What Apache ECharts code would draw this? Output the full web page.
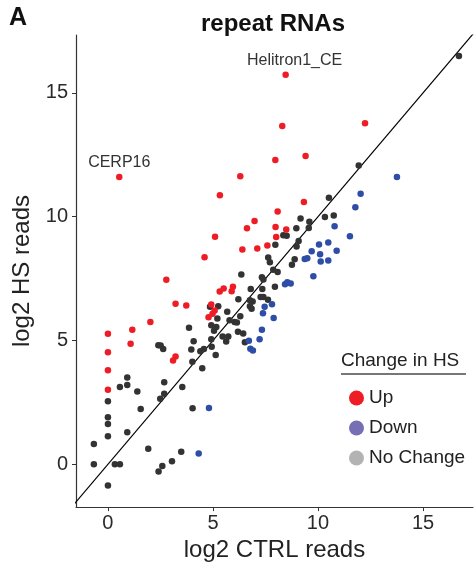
<!DOCTYPE html>
<html>
<head>
<meta charset="utf-8">
<script src="https://cdn.jsdelivr.net/npm/echarts@6/dist/echarts.min.js"></script>
<style>
  html, body { margin: 0; padding: 0; background: #fff; }
  #chart { width: 475px; height: 567px; }
</style>
</head>
<body>
<div id="chart"></div>
<script>
// [log2 CTRL reads, log2 HS reads]
const upPoints = [
  [0.54, 11.60], [6.30, 11.63], [5.33, 10.87], [8.46, 15.73], [8.30, 13.66], [12.24, 13.78],
  [7.97, 12.29], [9.41, 12.45], [9.33, 10.59], [8.08, 10.21], [6.98, 9.83], [6.62, 9.53],
  [5.10, 9.19], [6.40, 8.68], [7.11, 8.72], [7.59, 8.84], [4.60, 8.36], [2.78, 7.45],
  [5.32, 6.98], [5.51, 7.10], [5.89, 6.99], [5.95, 7.17], [3.22, 6.48], [3.73, 6.41],
  [4.92, 6.45], [5.08, 6.21], [4.98, 6.08], [4.79, 5.94], [2.02, 5.75], [1.16, 5.43],
  [0, 5.27], [1.08, 4.87], [0, 4.53], [3.22, 4.35], [3.10, 4.19], [0, 3.80], [0, 3.01],
  [7.98, 9.58], [8.49, 9.48], [8.01, 9.18]
]
// labelled repeats (index into upPoints)
const upLabels = { 0: 'CERP16', 3: 'Helitron1_CE' }

const downPoints = [
  [13.76, 11.60], [12.03, 10.93], [11.78, 10.38], [10.79, 9.61], [11.52, 9.21], [10.05, 8.88],
  [10.49, 8.96], [9.70, 8.60], [10.89, 8.63], [10.10, 8.48], [10.13, 8.19], [10.49, 8.23],
  [9.37, 8.29], [9.49, 8.32], [9.78, 7.59], [8.43, 7.27], [8.54, 7.35], [8.70, 7.30],
  [7.81, 6.46], [7.89, 5.91], [7.46, 6.36], [7.38, 6.10], [7.33, 5.43], [7.22, 5.05],
  [6.71, 4.99], [6.78, 4.67], [6.90, 4.60], [4.81, 2.27], [4.32, 0.44]
]

const noChangePoints = [
  [16.71, 16.49], [11.94, 12.07], [10.52, 10.77], [9.17, 9.93], [9.59, 9.80], [10.33, 9.99],
  [10.75, 10.05], [8.97, 9.53], [9.56, 9.54], [8.35, 9.25], [8.51, 9.23], [7.97, 8.87],
  [9.08, 9.02], [8.98, 8.80], [8.89, 8.28], [8.76, 8.06], [7.63, 8.35], [7.71, 8.16],
  [7.87, 7.86], [8.08, 7.77], [7.95, 7.17], [6.35, 7.67], [7.33, 7.55], [7.40, 7.46],
  [6.80, 7.08], [7.35, 7.08], [6.21, 6.67], [6.76, 6.63], [7.27, 6.76], [7.40, 6.76],
  [7.62, 6.65], [6.89, 6.57], [6.76, 6.38], [6.84, 6.28], [4.86, 6.36], [5.25, 6.38],
  [5.68, 6.16], [6.30, 5.98], [5.21, 5.89], [5.79, 5.82], [6.03, 5.75], [6.14, 5.73],
  [4.92, 5.62], [5.16, 5.54], [5.05, 5.39], [6.19, 5.35], [6.44, 5.28], [3.86, 5.51],
  [5.46, 5.16], [5.73, 5.16], [4.92, 5.05], [4.08, 4.97], [5.63, 4.96], [2.40, 4.81],
  [2.51, 4.80], [2.63, 4.66], [3.97, 4.64], [4.40, 4.57], [4.57, 4.66], [6.52, 4.93],
  [5.13, 4.41], [4.94, 4.75], [0, 2.55], [0, 1.90], [0, 1.63], [0, 1.13], [0, -0.86],
  [-0.67, 0.82], [-0.67, 0], [0.33, 0], [0.57, 0], [0.57, 3.12], [0.92, 3.51], [0.92, 3.20],
  [1.40, 2.94], [1.56, 2.23], [0.92, 1.29], [1.92, 0.63], [2.68, 3.31], [2.68, 2.85],
  [2.49, 2.65], [3.54, 3.12], [4.03, 2.26], [3.49, 0.51], [3.05, 0.12], [2.59, -0.07],
  [2.41, -0.29], [4.02, 4.14], [4.49, 3.88]
]

// y = x reference line
const diagonal = [[-5, -5], [20, 20]]
const tickValues = [0, 5, 10, 15]
const legendNames = ['Up', 'Down', 'No Change']
const legendColors = ['#EE1C25', '#7570B3', '#B3B3B3']

const chart = echarts.init(document.getElementById('chart'), null, { renderer: 'canvas' })

const axisCommon = {
  type: 'value',
  splitLine: { show: false },
  axisLine: { show: true, onZero: false, lineStyle: { color: '#333', width: 1.2 } },
  axisTick: { show: true, length: 4, lineStyle: { color: '#333' }, customValues: tickValues },
  axisLabel: { color: '#2a2a2a', fontSize: 20, fontFamily: 'Liberation Sans', customValues: tickValues },
  nameLocation: 'middle',
  nameTextStyle: { color: '#222', fontSize: 24, fontFamily: 'Liberation Sans' }
}

const upData = upPoints.map(function (p, i) {
  if (upLabels[i]) {
    return {
      value: p,
      label: {
        show: true,
        formatter: upLabels[i],
        position: 'top',
        distance: 3,
        offset: i === 3 ? [9, 0] : [0, 0],
        color: '#333',
        fontSize: 16,
        fontFamily: 'Liberation Sans'
      }
    }
  }
  return p
})

const option = {
  animation: false,
  title: {
    text: 'repeat RNAs',
    left: 196,
    top: 7,
    textStyle: { fontSize: 24, fontWeight: 'bold', color: '#111', fontFamily: 'Liberation Sans' }
  },
  grid: { left: 76, right: 2, top: 35, bottom: 59 },
  xAxis: Object.assign({}, axisCommon, {
    min: -1.52, max: 17.38,
    name: 'log2 CTRL reads', nameGap: 27,
    axisLabel: Object.assign({}, axisCommon.axisLabel, { margin: 6 })
  }),
  yAxis: Object.assign({}, axisCommon, {
    min: -1.73, max: 17.34,
    name: 'log2 HS reads', nameGap: 24,
    axisLabel: Object.assign({}, axisCommon.axisLabel, { margin: 8 })
  }),
  legend: {
    orient: 'vertical',
    left: 344,
    top: 383,
    itemWidth: 15,
    itemHeight: 15,
    itemGap: 10,
    icon: 'circle',
    textStyle: { fontSize: 19, color: '#222', lineHeight: 20, fontFamily: 'Liberation Sans' },
    data: legendNames.map(function (n, i) {
      return { name: n, itemStyle: { color: legendColors[i] } }
    })
  },
  graphic: [
    { type: 'text', left: 9, top: 6, style: { text: 'A', fontSize: 25, fontWeight: 'bold', fill: '#111', fontFamily: 'Liberation Sans' } },
    { type: 'text', left: 341, top: 351, style: { text: 'Change in HS', fontSize: 19, fill: '#222', fontFamily: 'Liberation Sans' } },
    { type: 'line', shape: { x1: 341, y1: 374, x2: 466, y2: 374 }, style: { stroke: '#777', lineWidth: 2 } }
  ],
  series: [
    {
      type: 'line',
      data: diagonal,
      symbol: 'none',
      silent: true,
      lineStyle: { color: '#000', width: 1.2 },
      clip: true,
      z: 1
    },
    {
      name: 'No Change',
      type: 'scatter',
      data: noChangePoints,
      symbolSize: 6.5,
      itemStyle: { color: '#333333', opacity: 1 },
      z: 2
    },
    {
      name: 'Down',
      type: 'scatter',
      data: downPoints,
      symbolSize: 6.5,
      itemStyle: { color: '#2E4DA6', opacity: 1 },
      z: 3
    },
    {
      name: 'Up',
      type: 'scatter',
      data: upData,
      symbolSize: 6.5,
      itemStyle: { color: '#EE1C25', opacity: 1 },
      z: 4
    }
  ]
}

chart.setOption(option)
</script>
</body>
</html>
